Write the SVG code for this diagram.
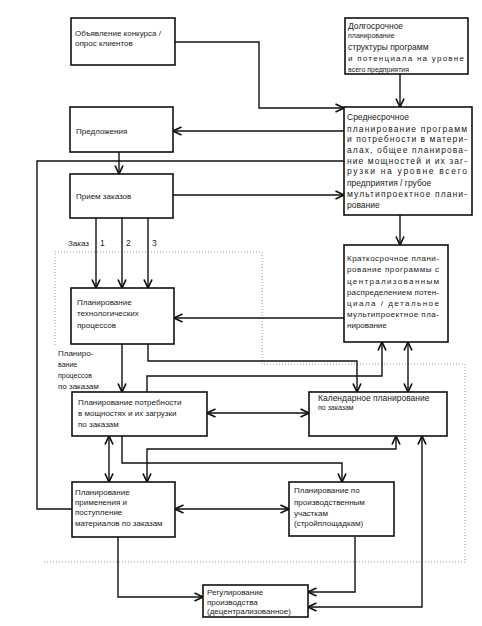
<svg xmlns="http://www.w3.org/2000/svg" width="482" height="626" viewBox="0 0 482 626">
<defs>
<style>
.box{fill:#fff;stroke:#111;stroke-width:1.6}
.t{font-family:"Liberation Sans",Arial,sans-serif;font-size:8px;fill:#1a1a1a}
.s{font-size:7px}
.m{font-size:8.5px}
.ln{fill:none;stroke:#111;stroke-width:1.4}
.dot{fill:none;stroke:#9a9a9a;stroke-width:1;stroke-dasharray:1 2}
</style>
<marker id="ah" viewBox="0 0 10 10" refX="9.5" refY="5" markerWidth="10" markerHeight="10" markerUnits="userSpaceOnUse" orient="auto-start-reverse">
<path d="M1,1 L9.5,5 L1,9" fill="none" stroke="#111" stroke-width="1.7"/>
</marker>
</defs>
<rect width="482" height="626" fill="#fff"/>

<g id="dotted">
<polyline class="dot" points="55,345 55,252 262,252 262,364 465,364 465,562 42,562"/>
</g>

<g id="connectors">
<polyline class="ln" points="175,42 259,42 259,108 344,108" marker-end="url(#ah)"/>
<line class="ln" x1="400" y1="74" x2="400" y2="107" marker-end="url(#ah)"/>
<line class="ln" x1="344" y1="131" x2="173" y2="131" marker-end="url(#ah)"/>
<line class="ln" x1="119" y1="152" x2="119" y2="174" marker-end="url(#ah)"/>
<line class="ln" x1="173" y1="195" x2="344" y2="195" marker-end="url(#ah)"/>
<polyline class="ln" points="72,509 37,509 37,161 344,161"/>
<line class="ln" x1="400" y1="215" x2="400" y2="245" marker-end="url(#ah)"/>
<line class="ln" x1="96" y1="218" x2="96" y2="288" marker-end="url(#ah)"/>
<line class="ln" x1="122" y1="218" x2="122" y2="288" marker-end="url(#ah)" stroke-width="1"/>
<line class="ln" x1="148" y1="218" x2="148" y2="288" marker-end="url(#ah)"/>
<line class="ln" x1="344" y1="318" x2="174" y2="318" marker-end="url(#ah)"/>
<line class="ln" x1="122" y1="344" x2="122" y2="392" marker-end="url(#ah)"/>
<polyline class="ln" points="148,344 148,361 357,361 357,392" marker-end="url(#ah)"/>
<polyline class="ln" points="147,392 147,376 382,376 382,342" marker-end="url(#ah)"/>
<line class="ln" x1="408" y1="342" x2="408" y2="392" marker-start="url(#ah)" marker-end="url(#ah)"/>
<line class="ln" x1="207" y1="413" x2="309" y2="413" marker-start="url(#ah)" marker-end="url(#ah)"/>
<line class="ln" x1="109" y1="436" x2="109" y2="482" marker-start="url(#ah)" marker-end="url(#ah)"/>
<polyline class="ln" points="396,436 396,449 147,449 147,482" marker-start="url(#ah)" marker-end="url(#ah)"/>
<polyline class="ln" points="122,436 122,463 342,463 342,482" marker-end="url(#ah)"/>
<line class="ln" x1="175" y1="509" x2="289" y2="509" marker-start="url(#ah)" marker-end="url(#ah)"/>
<polyline class="ln" points="422,436 422,607 308,607" marker-start="url(#ah)" marker-end="url(#ah)"/>
<polyline class="ln" points="355,537 355,592 308,592" marker-end="url(#ah)"/>
<polyline class="ln" points="118,537 118,597 203,597" marker-end="url(#ah)"/>
</g>

<g id="labels">
<text class="t" x="68" y="246">Заказ</text>
<text class="t m" x="100" y="246">1</text>
<text class="t m" x="126" y="246">2</text>
<text class="t m" x="152" y="246">3</text>
<text class="t" x="58" y="356">Планиро-</text>
<text class="t s" x="58" y="367">вание</text>
<text class="t s" x="58" y="378">процессов</text>
<text class="t" x="58" y="389">по заказам</text>
</g>

<g id="n-contest">
<rect class="box" x="71" y="18" width="104" height="47"/>
<text class="t" x="75" y="36">Объявление конкурса /</text>
<text class="t" x="75" y="46">опрос клиентов</text>
</g>

<g id="n-longterm">
<rect class="box" x="345" y="18" width="123" height="56"/>
<text class="t m" x="348" y="29">Долгосрочное</text>
<text class="t s" x="348" y="38">планирование</text>
<text class="t m" x="348" y="50">структуры программ</text>
<text class="t" x="348" y="61" textLength="116" lengthAdjust="spacing">и потенциала на уровне</text>
<text class="t s" x="348" y="72">всего предприятия</text>
</g>

<g id="n-midterm">
<rect class="box" x="344" y="107" width="128" height="108"/>
<text class="t m" x="347" y="120">Среднесрочное</text>
<text class="t m" x="347" y="132" textLength="120" lengthAdjust="spacing">планирование программ</text>
<text class="t m" x="347" y="142" textLength="120" lengthAdjust="spacing">и потребности в матери-</text>
<text class="t m" x="347" y="153" textLength="120" lengthAdjust="spacing">алах, общее планирова-</text>
<text class="t m" x="347" y="164" textLength="120" lengthAdjust="spacing">ние мощностей и их заг-</text>
<text class="t m" x="347" y="174" textLength="120" lengthAdjust="spacing">рузки на уровне всего</text>
<text class="t m" x="347" y="186">предприятия / грубое</text>
<text class="t m" x="347" y="197" textLength="120" lengthAdjust="spacing">мультипроектное плани-</text>
<text class="t m" x="347" y="208">рование</text>
</g>

<g id="n-offers">
<rect class="box" x="70" y="107" width="103" height="45"/>
<text class="t" x="76" y="134">Предложения</text>
</g>

<g id="n-orders">
<rect class="box" x="70" y="174" width="103" height="44"/>
<text class="t" x="76" y="199">Прием заказов</text>
</g>

<g id="n-techproc">
<rect class="box" x="71" y="288" width="103" height="56"/>
<text class="t" x="77" y="305">Планирование</text>
<text class="t" x="77" y="316">технологических</text>
<text class="t" x="77" y="328">процессов</text>
</g>

<g id="n-shortterm">
<rect class="box" x="344" y="245" width="104" height="97"/>
<text class="t" x="347" y="261" textLength="92" lengthAdjust="spacing">Краткосрочное плани-</text>
<text class="t" x="347" y="272" textLength="92" lengthAdjust="spacing">рование программы с</text>
<text class="t" x="347" y="284" textLength="92" lengthAdjust="spacing">централизованным</text>
<text class="t" x="347" y="295" textLength="92" lengthAdjust="spacing">распределением потен-</text>
<text class="t" x="347" y="306" textLength="92" lengthAdjust="spacing">циала / детальное</text>
<text class="t" x="347" y="317" textLength="92" lengthAdjust="spacing">мультипроектное пла-</text>
<text class="t" x="347" y="328">нирование</text>
</g>

<g id="n-capacity">
<rect class="box" x="72" y="392" width="135" height="44"/>
<text class="t" x="78" y="405">Планирование потребности</text>
<text class="t" x="78" y="416">в мощностях и их загрузки</text>
<text class="t" x="78" y="427">по заказам</text>
</g>

<g id="n-calendar">
<rect class="box" x="309" y="392" width="138" height="44"/>
<text class="t m" x="318" y="401">Календарное планирование</text>
<text class="t s" x="318" y="410">по заказам</text>
</g>

<g id="n-materials">
<rect class="box" x="72" y="482" width="103" height="55"/>
<text class="t" x="75" y="495">Планирование</text>
<text class="t" x="75" y="505">применения и</text>
<text class="t" x="75" y="515">поступление</text>
<text class="t" x="75" y="526">материалов по заказам</text>
</g>

<g id="n-sites">
<rect class="box" x="289" y="482" width="105" height="54"/>
<text class="t" x="294" y="493">Планирование по</text>
<text class="t" x="294" y="505">производственным</text>
<text class="t" x="294" y="516">участкам</text>
<text class="t" x="294" y="526">(стройплощадкам)</text>
</g>

<g id="n-regulation">
<rect class="box" x="203" y="585" width="105" height="32"/>
<text class="t" x="207" y="595">Регулирование</text>
<text class="t" x="207" y="605">производства</text>
<text class="t" x="207" y="614">(децентрализованное)</text>
</g>
</svg>
